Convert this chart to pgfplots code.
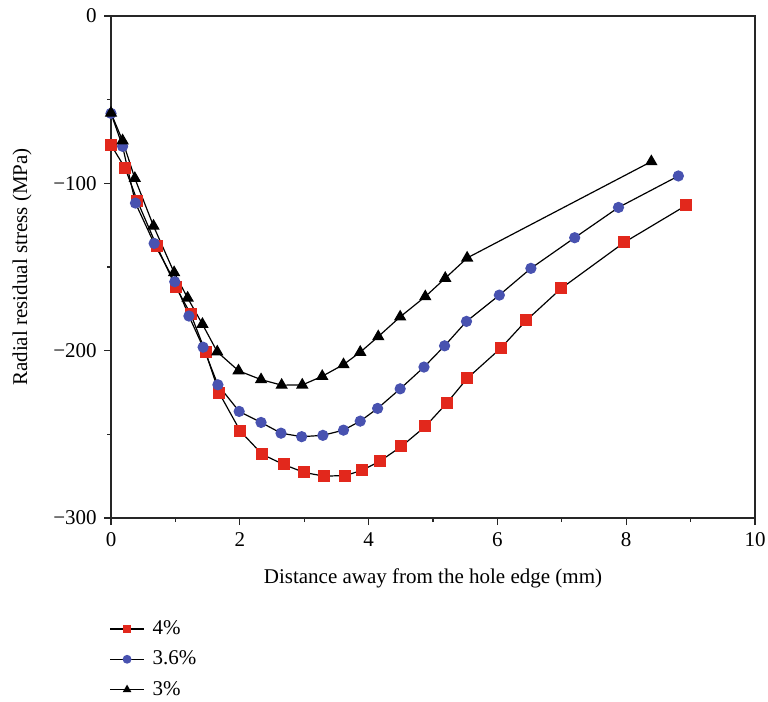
\documentclass[border=0pt]{standalone}
\usepackage{pgfplots}
\pgfplotsset{compat=1.18}
\usepackage{fontspec}
\setmainfont{Liberation Serif}
\definecolor{sqred}{RGB}{226,40,28}
\definecolor{cblue}{RGB}{72,82,176}
\begin{document}
\fontsize{10.5}{12.6}\selectfont
\begin{tikzpicture}
\begin{axis}[name=ax, width=322pt, height=251pt, scale only axis,
  xmin=0, xmax=10, ymin=-300, ymax=0,
  xtick={0,2,4,6,8,10}, xticklabels={0,2,4,6,8,10},
  ytick={-300,-200,-100,0}, yticklabels={−300,−200,−100,0},
  minor xtick={1,3,5,7,9}, minor ytick={-250,-150,-50},
  tick align=outside, tick pos=left,
  major tick length=3.5pt, minor tick length=2pt,
  axis line style={black!85, line width=0.6pt},
  every tick/.style={black!85, line width=0.6pt},
  tick label style={font=\fontsize{10.5}{12}\selectfont},
  label style={font=\fontsize{10.5}{12}\selectfont},
  xlabel={Distance away from the hole edge (mm)},
  ylabel={Radial residual stress (MPa)},
  xlabel style={at={(axis description cs:0.5,-0.12)}, anchor=center},
  ylabel style={at={(axis description cs:-0.138,0.5)}, anchor=center},
  legend style={at={(0,0)}, anchor=north west, yshift=-47pt, xshift=-4pt,
    draw=none, fill=none, row sep=2.6pt, column sep=2pt,
    font=\fontsize{10.5}{12}\selectfont},
  legend image post style={mark size=1.9pt},
  legend cell align=left,
]
\addplot[black, line width=0.6pt, mark=square*, mark size=2.7pt,
  mark options={fill=sqred, draw=sqred}] coordinates {
(0,-77) (0.22,-91) (0.41,-110.6) (0.71,-137.5) (1.01,-162.2) (1.24,-178.3)
(1.47,-201) (1.68,-225.3) (2.01,-248.2) (2.35,-262) (2.68,-268) (3.0,-272.8)
(3.31,-275) (3.64,-274.6) (3.89,-271.6) (4.17,-266.2) (4.51,-257.2) (4.88,-245.3)
(5.21,-231.5) (5.53,-216.6) (6.05,-198.6) (6.45,-181.9) (6.99,-162.8) (7.97,-135.3)
(8.93,-113.2)};
\addlegendentry{4\%}
\addplot[black, line width=0.6pt, mark=*, mark size=2.5pt,
  mark options={fill=cblue, draw=cblue}] coordinates {
(0,-58.2) (0.18,-77.9) (0.38,-111.8) (0.67,-135.9) (0.99,-158.8) (1.21,-179.3)
(1.43,-197.9) (1.66,-220.4) (1.99,-236.3) (2.33,-242.9) (2.64,-249.3) (2.96,-251.4)
(3.29,-250.6) (3.61,-247.5) (3.87,-242.1) (4.14,-234.5) (4.49,-222.8) (4.86,-209.8)
(5.18,-197.1) (5.52,-182.5) (6.03,-166.8) (6.52,-150.8) (7.20,-132.5) (7.88,-114.4)
(8.81,-95.6)};
\addlegendentry{3.6\%}
\addplot[black, line width=0.6pt, mark=triangle*, mark size=3pt,
  mark options={fill=black, draw=black}] coordinates {
(0,-58) (0.18,-74.5) (0.37,-97) (0.66,-125.5) (0.98,-153.3) (1.19,-168.5)
(1.42,-184.2) (1.65,-200.7) (1.98,-212) (2.33,-217.3) (2.65,-220.6) (2.97,-220.5)
(3.28,-215.3) (3.61,-208.3) (3.87,-200.9) (4.15,-191.6) (4.49,-179.8) (4.88,-167.7)
(5.19,-156.7) (5.53,-144.6) (8.39,-87)};
\addlegendentry{3\%}
\end{axis}
\pgfresetboundingbox
\path[use as bounding box] ([shift={(-55.5pt,-91.5pt)}]ax.south west) rectangle ([shift={(6.5pt,8pt)}]ax.north east);
\end{tikzpicture}
\end{document}
